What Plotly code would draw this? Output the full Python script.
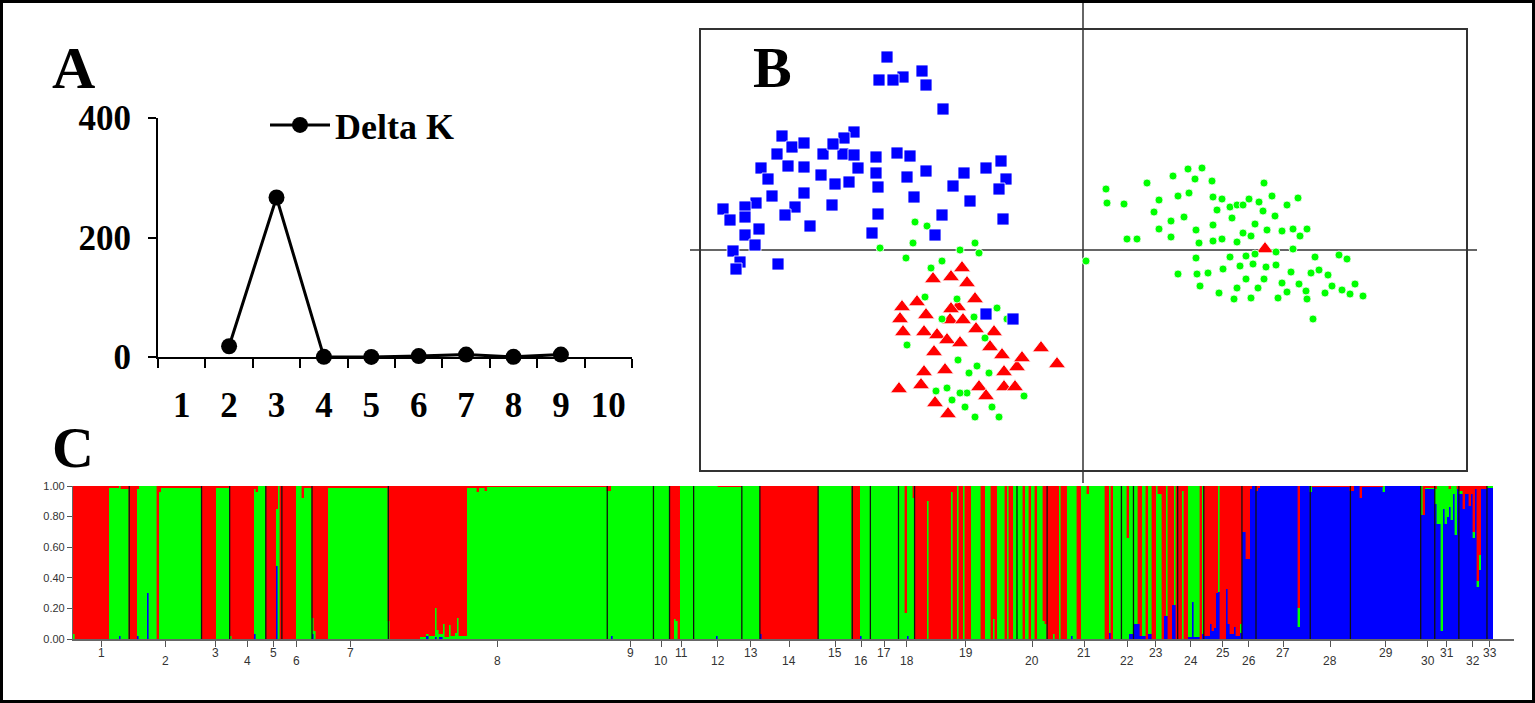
import plotly.graph_objects as go

W, H = 1535, 703


def px_x(p):
    return p / W


def px_y(p):
    return 1 - p / H


# ---------------- Panel A : Delta K ----------------
k_values = [1, 2, 3, 4, 5, 6, 7, 8, 9, 10]
k_labels = ["1", "2", "3", "4", "5", "6", "7", "8", "9", "10"]
delta_k_K = [2, 3, 4, 5, 6, 7, 8, 9]
delta_k = [18, 267, 0.3, 0.2, 1.5, 4, 0.3, 4]
a_yticks = [0, 200, 400]

# ---------------- Panel B : PCoA ----------------
blue_x = [-1.96, -2.04, -1.80, -1.90, -1.61, -1.57, -1.40, -3.01, -2.29, -2.39,
          -2.91, -2.79, -3.06, -2.60, -2.40, -2.50, -2.29, -2.95, -2.79, -3.22,
          -3.15, -2.62, -2.48, -2.34, -2.25, -2.07, -1.86, -1.73, -2.07, -1.76,
          -1.57, -2.05, -1.69, -1.30, -1.19, -0.97, -0.82, -0.77, -0.84, -1.13,
          -0.80, -3.11, -2.79, -3.27, -2.88, -2.51, -3.60, -3.38, -3.53, -3.38,
          -2.98, -2.73, -3.24, -3.38, -3.28, -3.50, -3.43, -3.47, -3.05, -2.05,
          -2.11, -1.41, -1.48, -0.97, -0.70]
blue_y = [1.93, 1.70, 1.73, 1.70, 1.79, 1.65, 1.41, 1.14, 1.18, 1.12,
          1.03, 1.07, 0.96, 0.96, 0.96, 1.06, 0.95, 0.84, 0.83, 0.82,
          0.71, 0.75, 0.66, 0.68, 0.82, 0.93, 0.97, 0.94, 0.77, 0.73,
          0.79, 0.63, 0.53, 0.64, 0.77, 0.82, 0.89, 0.71, 0.61, 0.49,
          0.31, 0.54, 0.57, 0.47, 0.43, 0.45, 0.41, 0.43, 0.30, 0.33,
          0.35, 0.24, 0.21, 0.15, 0.05, -0.01, -0.12, -0.19, -0.14, 0.36,
          0.17, 0.35, 0.15, -0.64, -0.69]

red_x = [-1.21, -1.32, -1.16, -1.50, -1.08, -1.66, -1.81, -1.25, -1.57, -1.83,
         -1.33, -1.80, -1.59, -1.46, -1.36, -1.23, -1.07, -0.89, -0.93, -1.49,
         -0.81, -0.42, -0.26, -0.66, -0.61, -1.38, -1.59, -0.79, -1.84, -1.62,
         -1.04, -0.79, -0.97, -1.48, -1.35, -0.68, -1.32, -1.20, 1.82]
red_y = [-0.18, -0.27, -0.33, -0.29, -0.49, -0.52, -0.57, -0.57, -0.65, -0.69,
         -0.70, -0.82, -0.82, -0.85, -0.90, -0.93, -0.79, -0.82, -0.97, -1.02,
         -1.05, -0.98, -1.14, -1.17, -1.08, -1.20, -1.22, -1.22, -1.39, -1.35,
         -1.37, -1.37, -1.46, -1.53, -1.64, -1.37, -0.59, -0.70, 0.01]

green_x = [-1.68, -1.56, -1.70, -2.03, -1.77, -1.08, -1.23, -1.04, -1.41, -1.52,
           -1.58, -1.26, -0.86, -1.09, -1.41, -0.76, -0.98, -1.76, -1.25, -1.06,
           -1.14, -0.94, -1.47, -1.36, -1.16, -1.31, -0.59, -1.18, -0.91, -1.08,
           -0.84, -1.23,
           0.03, 0.23, 0.24, 0.41, 0.64, 0.90, 1.05, 1.19, 1.12, 1.29,
           0.76, 0.95, 1.06, 0.71, 0.88, 1.01, 0.76, 0.44, 0.54, 0.88,
           1.13, 1.30, 1.39, 1.34, 1.47, 1.54, 1.60, 1.66, 1.76, 1.81,
           1.89, 2.04, 2.15, 1.80, 1.92, 1.49, 1.30, 1.72, 1.84, 1.68,
           1.60, 1.99, 2.10, 2.24, 2.17, 1.16, 1.30, 1.39, 1.54, 1.13,
           1.47, 1.63, 1.72, 1.93, 2.10, 2.32, 2.64, 2.56, 1.57, 1.70,
           1.40, 1.25, 1.14, 0.95, 1.83, 2.08, 2.28, 2.36, 2.45, 1.63,
           1.81, 1.99, 2.16, 1.17, 1.75, 1.54, 1.36, 1.51, 1.68, 1.95,
           2.04, 2.23, 2.24, 2.42, 2.49, 2.59, 2.67, 2.72, 2.80, 2.30,
           1.93]
green_y = [0.28, 0.24, 0.07, 0.02, -0.08, 0.07, 0.00, -0.03, -0.11, -0.18,
           -0.47, -0.49, -0.58, -0.67, -0.69, -0.69, -0.88, -0.95, -1.10, -1.16,
           -1.23, -1.23, -1.41, -1.38, -1.43, -1.50, -1.46, -1.57, -1.57, -1.67,
           -1.67, -1.43,
           -0.11, 0.61, 0.47, 0.46, 0.67, 0.74, 0.81, 0.82, 0.71, 0.69,
           0.50, 0.54, 0.57, 0.38, 0.29, 0.33, 0.21, 0.11, 0.11, 0.13,
           0.20, 0.53, 0.51, 0.40, 0.43, 0.45, 0.45, 0.51, 0.48, 0.67,
           0.54, 0.45, 0.52, 0.39, 0.34, 0.32, 0.25, 0.26, 0.20, 0.14,
           0.17, 0.19, 0.21, 0.21, 0.14, 0.07, 0.09, 0.11, 0.08, -0.08,
           -0.07, -0.06, -0.04, -0.02, 0.01, -0.07, -0.09, -0.05, -0.16, -0.14,
           -0.19, -0.23, -0.24, -0.24, -0.17, -0.22, -0.23, -0.20, -0.25, -0.29,
           -0.29, -0.33, -0.34, -0.36, -0.38, -0.38, -0.43, -0.49, -0.48, -0.48,
           -0.42, -0.41, -0.49, -0.43, -0.36, -0.40, -0.44, -0.34, -0.46, -0.69,
           -0.15]

# ---------------- Panel C : STRUCTURE (K=3) ----------------
# each population: runs of (individuals, red, green, blue)
pop_labels = [str(i) for i in range(1, 34)]
pop_runs = [
    [(1, .97, .03, 0), (17, 1, 0, 0), (5, .01, .99, 0), (1, 0, .98, .02), (4, .02, .98, 0)],
    [(4, 1, 0, 0), (1, .02, .96, .02), (4, 0, 1, 0), (1, 0, .70, .30), (4, 0, 1, 0), (1, 1, 0, 0),
     (1, .04, .96, 0), (20, .01, .99, 0)],
    [(7, 1, 0, 0), (7, .01, .99, 0)],
    [(1, .98, .02, 0), (11, 1, 0, 0), (1, .02, .95, .03), (1, .04, .96, 0), (4, 0, 1, 0)],
    [(5, 1, 0, 0), (1, .15, .37, .48), (1, 0, 1, 0), (1, 1, 0, 0)],
    [(7, 1, 0, 0), (3, 0, 1, 0), (1, .08, .92, 0), (4, .01, .99, 0)],
    [(1, .86, .11, .03), (1, .95, .05, 0), (6, 1, 0, 0), (30, .01, .99, 0)],
    [(1, .88, .12, 0), (15, 1, 0, 0), (3, .99, .01, 0), (1, .97, .01, .02), (3, .98, .02, 0),
     (1, .80, .19, .01), (1, .94, .06, 0), (2, .97, .02, .01), (1, .90, .10, 0), (2, .99, .01, 0),
     (1, .91, .09, 0), (2, .98, .02, 0), (1, .96, .04, 0), (1, .86, .14, 0), (4, .98, .02, 0),
     (5, .01, .99, 0), (1, .04, .96, 0), (3, .01, .99, 0), (1, .03, .97, 0), (60, .005, .995, 0)],
    [(2, .03, .97, 0), (1, 0, .98, .02), (20, 0, 1, 0)],
    [(8, 0, 1, 0)],
    [(2, 1, 0, 0), (1, .87, .13, 0), (1, .88, .12, 0), (1, 1, 0, 0), (7, 0, 1, 0)],
    [(11, 0, 1, 0), (1, 0, .98, .02), (12, .005, .995, 0)],
    [(9, 0, 1, 0)],
    [(1, .97, 0, .03), (28, 1, 0, 0)],
    [(17, 0, 1, 0)],
    [(4, 1, 0, 0), (1, 0, .98, .02), (4, 0, 1, 0)],
    [(14, 0, 1, 0)],
    [(3, 0, 1, 0), (1, .83, .17, 0), (1, 0, .98, .02), (2, 0, 1, 0), (1, .08, .92, 0)],
    [(6, 1, 0, 0), (1, .10, .90, 0), (11, 1, 0, 0), (1, .04, .96, 0), (2, 1, 0, 0), (1, 0, 1, 0),
     (2, 1, 0, 0), (1, 0, 1, 0), (3, 1, 0, 0), (5, 0, 1, 0), (2, 1, 0, 0), (3, 0, 1, 0),
     (1, 1, 0, 0), (1, .87, .13, 0), (1, 1, 0, 0), (4, 0, 1, 0), (1, 1, 0, 0), (1, 0, 1, 0),
     (2, 1, 0, 0), (2, 0, 1, 0)],
    [(3, 0, 1, 0), (1, 1, 0, 0), (2, 0, 1, 0), (1, 1, 0, 0), (2, 0, 1, 0), (1, 1, 0, 0),
     (3, 0, 1, 0), (1, .88, .12, 0), (1, .90, .10, 0)],
    [(3, 1, 0, 0), (1, .97, .03, 0), (2, 1, 0, 0), (1, 0, 1, 0), (3, 1, 0, 0), (2, 0, 1, 0),
     (1, 0, .98, .02), (2, 0, 1, 0), (2, 1, 0, 0), (3, 0, 1, 0), (1, .05, .95, 0), (8, 0, 1, 0),
     (2, 1, 0, 0), (1, 0, .96, .04), (1, 1, 0, 0), (4, 0, 1, 0)],
    [(3, 0, 1, 0), (1, .34, .66, 0), (2, 0, .97, .03)],
    [(2, 0, .90, .10), (1, .90, 0, .10), (1, .98, 0, .02), (2, 0, .98, .02), (1, 1, 0, 0),
     (2, 0, .97, .03), (2, 1, 0, 0), (1, 0, 1, 0), (2, .05, .95, 0), (1, 1, 0, 0),
     (1, .85, 0, .15), (1, 0, .85, .15), (2, 1, 0, 0), (1, .78, 0, .22), (1, 0, .78, .22),
     (1, 1, 0, 0)],
    [(2, 1, 0, 0), (1, .03, .97, 0), (2, 1, 0, 0), (2, 0, .99, .01), (1, 0, .76, .24),
     (3, 0, .99, .01), (1, 1, 0, 0), (1, 0, .97, .03)],
    [(3, .98, 0, .02), (1, .90, 0, .10), (1, .95, 0, .05), (1, .93, 0, .07), (1, .70, 0, .30),
     (1, 0, .69, .31), (3, 1, 0, 0), (1, .67, 0, .33), (1, .90, 0, .10), (2, .97, 0, .03),
     (1, .92, 0, .08), (2, .98, 0, .02), (1, .90, .06, .04)],
    [(2, .30, 0, .70), (2, .48, 0, .52), (1, .02, 0, .98), (2, 0, 0, 1)],
    [(1, .03, 0, .97), (1, .01, 0, .99), (19, 0, 0, 1), (1, .80, .12, .08), (5, 0, 0, 1)],
    [(1, 0, .04, .96), (19, .005, 0, .995)],
    [(2, .03, 0, .97), (3, 0, 0, 1), (1, .08, 0, .92), (10, .005, 0, .995), (1, 0, .04, .96),
     (18, 0, 0, 1)],
    [(1, 0, .19, .81), (1, .19, 0, .81), (5, .01, .01, .98)],
    [(1, .02, .10, .88), (1, 0, .25, .75), (1, 0, .25, .75), (1, 0, .95, .05), (1, 0, .15, .85),
     (1, 0, .25, .75), (1, 0, .20, .80), (1, .02, .12, .86), (1, 0, .22, .78), (1, 0, .05, .95),
     (1, 0, .32, .68), (1, .02, 0, .98)],
    [(2, .03, .02, .95), (1, .15, 0, .85), (2, .05, 0, .95), (1, .13, 0, .87), (1, .05, 0, .95),
     (1, .30, .04, .66), (1, .02, 0, .98), (1, .62, .04, .34), (1, .45, .10, .45), (3, .02, 0, .98)],
    [(3, 0, .01, .99)],
]
c_yticks = [0, 0.2, 0.4, 0.6, 0.8, 1.0]

RED, GREEN, BLUE = "#FF0000", "#00FF00", "#0000FF"

# expand runs into bar geometry
bx, bw, q_red, q_green, q_blue = [], [], [], [], []
pop_start, pop_center = [], []
pos = 0
for runs in pop_runs:
    pop_start.append(pos)
    n_pop = sum(r[0] for r in runs)
    pop_center.append(pos + n_pop / 2)
    for n, r, g, b in runs:
        bx.append(pos + n / 2)
        bw.append(n)
        q_red.append(r)
        q_green.append(g)
        q_blue.append(b)
        pos += n
total_ind = pos

fig = go.Figure()

# Panel A
fig.add_trace(go.Scatter(
    x=delta_k_K, y=delta_k, mode="lines+markers", name="Delta K",
    line=dict(color="black", width=3), marker=dict(size=16, color="black"),
    xaxis="x", yaxis="y", cliponaxis=False, showlegend=True))

# Panel B
fig.add_trace(go.Scatter(
    x=red_x, y=red_y, mode="markers", xaxis="x2", yaxis="y2", showlegend=False,
    marker=dict(symbol="triangle-up", size=15, color=RED, line=dict(color="white", width=0.8))))
fig.add_trace(go.Scatter(
    x=green_x, y=green_y, mode="markers", xaxis="x2", yaxis="y2", showlegend=False,
    marker=dict(symbol="circle", size=8, color=GREEN, line=dict(color="white", width=0.8))))
fig.add_trace(go.Scatter(
    x=blue_x, y=blue_y, mode="markers", xaxis="x2", yaxis="y2", showlegend=False,
    marker=dict(symbol="square", size=12, color=BLUE, line=dict(color="white", width=0.8))))

# Panel C (stack: blue bottom, green middle, red top)
for vals, col in [(q_blue, BLUE), (q_green, GREEN), (q_red, RED)]:
    fig.add_trace(go.Bar(
        x=bx, y=vals, width=bw, xaxis="x3", yaxis="y3", showlegend=False,
        marker=dict(color=col, line=dict(width=0.4, color=col))))

shapes = []
# population separators
for s in pop_start[1:]:
    shapes.append(dict(type="line", xref="x3", yref="y3", x0=s, x1=s, y0=0, y1=1,
                       line=dict(color="#111", width=1.3)))
# PCoA centre cross
shapes.append(dict(type="line", xref="x2", yref="paper", x0=0, x1=0,
                   y0=px_y(483), y1=1, line=dict(color="#333", width=1.5), layer="below"))
shapes.append(dict(type="line", xref="paper", yref="y2", x0=px_x(690), x1=px_x(1477),
                   y0=0, y1=0, line=dict(color="#333", width=1.5), layer="below"))
# outer frame
shapes.append(dict(type="rect", xref="paper", yref="paper", x0=px_x(1.5), x1=px_x(W - 1.5),
                   y0=px_y(H - 1.5), y1=px_y(1.5), line=dict(color="black", width=3)))

annotations = []
panel_letters = [("A", 73, 68, 60), ("B", 772, 68, 58), ("C", 73, 447, 58)]
for lab, xc, yc, fs in panel_letters:
    annotations.append(dict(text="<b>%s</b>" % lab, xref="paper", yref="paper",
                            x=px_x(xc), y=px_y(yc), xanchor="center", yanchor="middle",
                            showarrow=False,
                            font=dict(family="Liberation Serif", size=fs, color="black")))
# population labels, alternating heights
for i, (lab, xc) in enumerate(zip(pop_labels, pop_center)):
    yy = 653 if i % 2 == 0 else 661
    annotations.append(dict(text=lab, xref="x3", yref="paper", x=xc, y=px_y(yy),
                            xanchor="center", yanchor="middle", showarrow=False,
                            font=dict(family="Liberation Sans", size=12, color="#333")))

serif_b = dict(family="Liberation Serif", size=35, color="black", weight="bold")

fig.update_layout(
    template="none",
    width=W, height=H, margin=dict(l=0, r=0, t=0, b=0, pad=0, autoexpand=False),
    paper_bgcolor="white", plot_bgcolor="white",
    barmode="stack", bargap=0,
    shapes=shapes, annotations=annotations,
    showlegend=True,
    legend=dict(x=px_x(265), y=px_y(125), xanchor="left", yanchor="middle",
                bgcolor="rgba(0,0,0,0)", itemwidth=60,
                font=dict(family="Liberation Serif", size=36, color="black", weight="bold")),
    xaxis=dict(domain=[px_x(158), px_x(632)], range=[0.5, 10.5], anchor="y", automargin=False,
               tickvals=k_values, ticktext=k_labels, ticks="", showline=True,
               linecolor="black", linewidth=2, showgrid=False, zeroline=False,
               tickfont=serif_b, ticklabelstandoff=16,
               minor=dict(tick0=0.5, dtick=1, ticks="outside", ticklen=9, tickwidth=2,
                          tickcolor="black", showgrid=False)),
    yaxis=dict(domain=[px_y(357), px_y(118)], range=[0, 400], anchor="x", automargin=False,
               tickvals=a_yticks, ticks="outside", ticklen=8, tickwidth=2, tickcolor="black",
               showline=True, linecolor="black", linewidth=2, showgrid=False, zeroline=False,
               tickfont=serif_b, ticklabelstandoff=10),
    xaxis2=dict(domain=[px_x(701), px_x(1466)], range=[-3.82, 3.83], anchor="y2",
                automargin=False,
                showline=True, mirror=True, linecolor="#333", linewidth=1.5,
                showticklabels=False, ticks="", showgrid=False, zeroline=False),
    yaxis2=dict(domain=[px_y(470), px_y(30)], range=[-2.2, 2.2], anchor="x2",
                automargin=False,
                showline=True, mirror=True, linecolor="#333", linewidth=1.5,
                showticklabels=False, ticks="", showgrid=False, zeroline=False),
    xaxis3=dict(domain=[px_x(73), px_x(1514)], range=[0, total_ind * (1514 - 73) / (1493 - 73)],
                anchor="y3", automargin=False, tickvals=pop_center, showticklabels=False,
                ticks="outside", ticklen=6, tickcolor="#555", showline=True, linecolor="#666",
                linewidth=1.5, showgrid=False, zeroline=False),
    yaxis3=dict(domain=[px_y(639), px_y(486)], range=[0, 1], anchor="x3", automargin=False,
                tickvals=c_yticks, tickformat=".2f", ticks="outside", ticklen=5,
                tickcolor="#555", showline=True, linecolor="#666", linewidth=1.2,
                showgrid=False, zeroline=False,
                tickfont=dict(family="Liberation Sans", size=11, color="#333")),
)

fig.write_html(
    "out.html",
    config={"displayModeBar": False},
    post_script="document.body.style.margin='0px';document.body.style.overflow='hidden';",
)
